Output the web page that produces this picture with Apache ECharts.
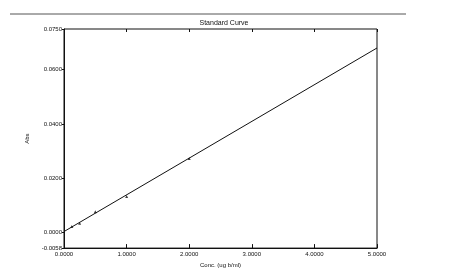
<!DOCTYPE html>
<html><head><meta charset="utf-8">
<script src="https://cdn.jsdelivr.net/npm/echarts@6/dist/echarts.min.js"></script>
<style>html,body{margin:0;padding:0;background:#fff}#c{width:473px;height:273px}</style>
</head><body><div id="c"></div>
<script>
const concX = [0.125, 0.25, 0.5, 1.0, 2.0];
const absY = [0.0022, 0.0034, 0.0076, 0.0132, 0.0272];
const fitX = [0, 5];
const fitY = [0.0003, 0.0680];
const xTicks = [0, 1, 2, 3, 4, 5];
const yTicks = [-0.0058, 0, 0.02, 0.04, 0.06, 0.075];

const chart = echarts.init(document.getElementById('c'));
const f = 'Liberation Sans';
chart.setOption({
  backgroundColor: '#fff',
  animation: false,
  title: { text: 'Standard Curve', left: 219, top: 15, textAlign: 'center',
    textStyle: { fontSize: 7, fontWeight: 'normal', color: '#111', fontFamily: f } },
  graphic: [{ type: 'line', shape: { x1: 10, y1: 14, x2: 406, y2: 14 },
    style: { stroke: '#555', lineWidth: 1 } }],
  grid: { left: 64, right: 96, top: 29, bottom: 24, show: true, borderColor: '#111', borderWidth: 1 },
  xAxis: [{
    type: 'value', min: 0, max: 5, interval: 1,
    name: 'Conc. (ug b/ml)', nameLocation: 'middle', nameGap: 9,
    nameTextStyle: { fontSize: 6, color: '#111', fontFamily: f },
    axisLine: { onZero: false, lineStyle: { color: '#111' } },
    axisTick: { inside: true, length: 4, lineStyle: { color: '#111' } },
    axisLabel: { fontSize: 6, color: '#111', fontFamily: f, margin: 3,
      formatter: v => v.toFixed(4) },
    splitLine: { show: false }
  }, {
    type: 'value', min: 0, max: 5, interval: 1, position: 'top',
    axisLine: { show: false, onZero: false },
    axisTick: { inside: true, length: 3, lineStyle: { color: '#111' } },
    axisLabel: { show: false }, splitLine: { show: false }
  }],
  yAxis: [{
    type: 'value', min: -0.0058, max: 0.075,
    name: 'Abs', nameLocation: 'middle', nameGap: 34, nameRotate: 90,
    nameTextStyle: { fontSize: 6, color: '#111', fontFamily: f },
    axisLine: { onZero: false, lineStyle: { color: '#111' } },
    axisTick: { customValues: yTicks, length: 2, lineStyle: { color: '#111' } },
    axisLabel: { customValues: yTicks, fontSize: 6, color: '#111', fontFamily: f, margin: 2,
      formatter: v => v.toFixed(4) },
    splitLine: { show: false }
  }],
  series: [{
    type: 'line', data: fitX.map((x, i) => [x, fitY[i]]), symbol: 'none',
    lineStyle: { color: '#111', width: 1 }, xAxisIndex: 0
  }, {
    type: 'scatter', data: concX.map((x, i) => [x, absY[i]]), symbol: 'triangle',
    symbolSize: 3, itemStyle: { color: '#111' }, xAxisIndex: 0
  }]
});
</script></body></html>
